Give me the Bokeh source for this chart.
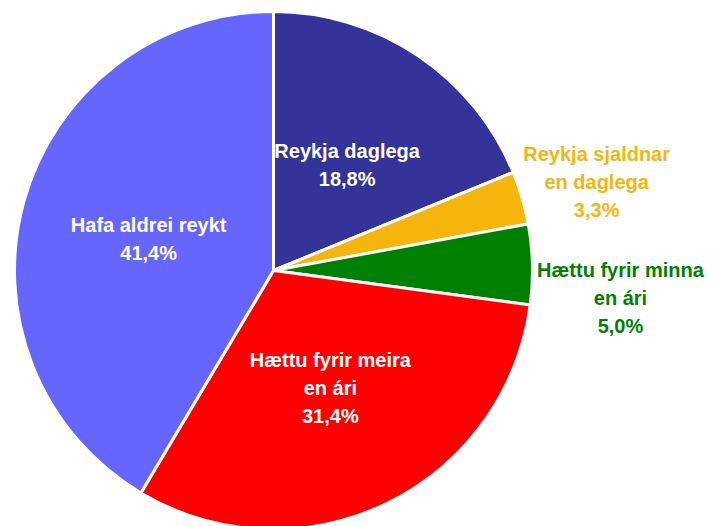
import math
from bokeh.plotting import figure
from bokeh.models import Range1d, ColumnDataSource
from bokeh.core.properties import value
from bokeh.embed import file_html
from bokeh.resources import INLINE

# ---- data ----
categories = ["Reykja daglega", "Reykja sjaldnar\nen daglega", "Hættu fyrir minna\nen ári",
              "Hættu fyrir meira\nen ári", "Hafa aldrei reykt"]
percents = [18.8, 3.3, 5.0, 31.4, 41.4]
pct_labels = ["18,8%", "3,3%", "5,0%", "31,4%", "41,4%"]
colors = ["#333399", "#F5B50C", "#008000", "#FF0000", "#6666FF"]
label_colors = ["white", "#F5B50C", "#008000", "white", "white"]

# ---- layout / style ----
W, H = 705, 526
CX, CY = 273, H - 270
R = 259
label_r = [0.51, 1.30, 1.34, 0.505, 0.50]
label_dy = [-4, -6, -36, 0, -3]
FONT = "Liberation Sans Narrow, Arial Narrow, Liberation Sans, sans-serif"

total = sum(percents)
starts, ends, lx, ly, texts = [], [], [], [], []
cum = 0.0
for i, v in enumerate(percents):
    a0 = math.pi / 2 - 2 * math.pi * cum / total
    cum += v
    a1 = math.pi / 2 - 2 * math.pi * cum / total
    starts.append(a0)
    ends.append(a1)
    mid = (a0 + a1) / 2
    lx.append(CX + label_r[i] * R * math.cos(mid))
    ly.append(CY + label_r[i] * R * math.sin(mid) + label_dy[i])
    texts.append(categories[i] + "\n" + pct_labels[i])

src = ColumnDataSource(dict(start=starts, end=ends, color=colors,
                            x=[CX] * len(percents), y=[CY] * len(percents)))
lsrc = ColumnDataSource(dict(x=lx, y=ly, text=texts, color=label_colors))

p = figure(width=W, height=H, x_range=Range1d(0, W), y_range=Range1d(0, H),
           output_backend="svg", toolbar_location=None, min_border=0)
p.axis.visible = False
p.grid.visible = False
p.outline_line_color = None
p.background_fill_color = "white"
p.border_fill_color = "white"

p.wedge(x="x", y="y", radius=R, radius_units="data", start_angle="start", end_angle="end",
        direction="clock", fill_color="color", line_color="white", line_width=3, source=src)

p.text(x="x", y="y", text="text", text_color="color", source=lsrc,
       text_font=value(FONT), text_font_size="20px", text_font_style="bold",
       text_align="center", text_baseline="middle", text_line_height=1.28)

open("out.html", "w").write(file_html(p, INLINE))
